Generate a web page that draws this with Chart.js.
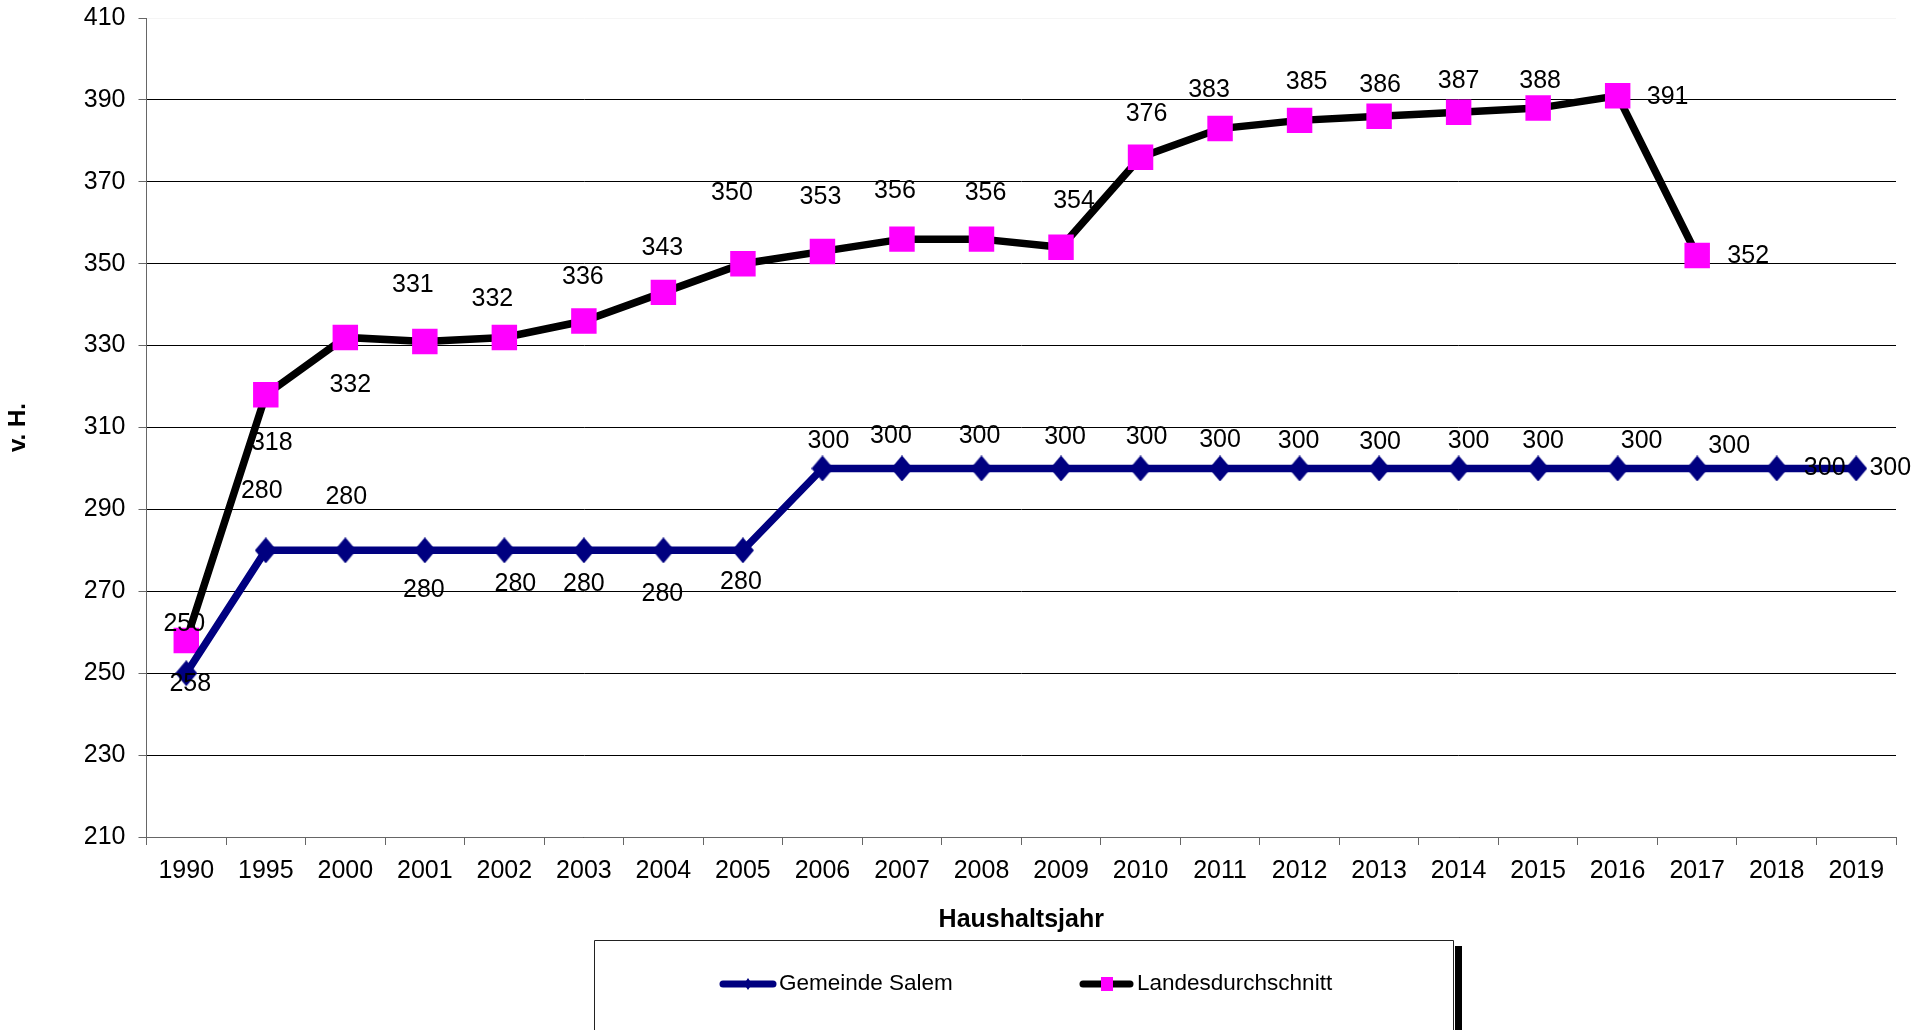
<!DOCTYPE html>
<html>
<head>
<meta charset="utf-8">
<script src="https://cdn.jsdelivr.net/npm/chart.js@4/dist/chart.umd.min.js"></script>
<style>
  html, body { margin: 0; padding: 0; background: #fff; }
  #wrap { width: 1915px; height: 1030px; }
</style>
</head>
<body>
<div id="wrap"><canvas id="c" width="1915" height="1030"></canvas></div>
<script>
// ---- data ----
const years = ['1990','1995','2000','2001','2002','2003','2004','2005','2006','2007','2008','2009','2010','2011','2012','2013','2014','2015','2016','2017','2018','2019'];
const salem = [250,280,280,280,280,280,280,280,300,300,300,300,300,300,300,300,300,300,300,300,300,300];
const landes = [258,318,332,331,332,336,343,350,353,356,356,354,376,383,385,386,387,388,391,352,null,null];
const seriesNames = ['Gemeinde Salem','Landesdurchschnitt'];
const yTitle = 'v. H.';
const xTitle = 'Haushaltsjahr';
const yMin = 210, yMax = 410, yStep = 20;

// ---- label layout (pixel offsets of data labels from their points) ----
const salemLabelDx = [-2,-4,1,-1,11,0,-1,-2,6,-11,-2,4,6,0,-1,1,10,5,24,32,48,34];
const salemLabelDy = [-49,-59,-53,40,34,34,44,32,-27,-32,-32,-31,-31,-28,-27,-26,-27,-27,-27,-22,0,0];
const landesLabelDx = [4,6,5,-12,-12,-1,-1,-11,-2,-7,4,13,6,-11,7,1,0,2,50,51,0,0];
const landesLabelDy = [44,48,48,-56,-38,-44,-44,-71,-54,-48,-46,-46,-43,-38,-38,-31,-31,-27,1,1,0,0];

const FONT = "'Liberation Sans', Arial, sans-serif";
const NAVY = '#000080', MAGENTA = '#FF00FF';

// diamond marker (slightly taller than wide)
function makeDiamond(w, h, color) {
  const c = document.createElement('canvas');
  c.width = w; c.height = h;
  const g = c.getContext('2d');
  g.fillStyle = color;
  g.beginPath();
  g.moveTo(w / 2, 0); g.lineTo(w, h / 2); g.lineTo(w / 2, h); g.lineTo(0, h / 2);
  g.closePath(); g.fill();
  return c;
}
const diamond = makeDiamond(22, 26, NAVY);

const dataLabels = {
  id: 'dataLabels',
  afterDatasetsDraw(chart) {
    const ctx = chart.ctx;
    const offs = [[salemLabelDx, salemLabelDy],[landesLabelDx, landesLabelDy]];
    ctx.save();
    ctx.font = '25px ' + FONT;
    ctx.fillStyle = '#000';
    ctx.textAlign = 'center';
    ctx.textBaseline = 'middle';
    chart.data.datasets.forEach((ds, di) => {
      const meta = chart.getDatasetMeta(di);
      meta.data.forEach((pt, i) => {
        const v = ds.data[i];
        if (v === null || v === undefined) return;
        ctx.fillText(String(v), pt.x + offs[di][0][i], pt.y + offs[di][1][i]);
      });
    });
    ctx.restore();
  }
};

const legendBox = {
  id: 'legendBox',
  afterDraw(chart) {
    const ctx = chart.ctx;
    ctx.save();
    // shadow
    ctx.fillStyle = '#000';
    ctx.fillRect(1455, 946, 7, 90);
    // frame
    ctx.strokeStyle = '#222';
    ctx.lineWidth = 1;
    ctx.fillStyle = '#fff';
    ctx.fillRect(594, 940, 859, 100);
    ctx.beginPath();
    ctx.moveTo(594.5, 1031); ctx.lineTo(594.5, 940.5); ctx.lineTo(1453.5, 940.5); ctx.lineTo(1453.5, 1031);
    ctx.stroke();
    const cy = 984;
    // Salem symbol
    ctx.lineCap = 'round';
    ctx.lineWidth = 7;
    ctx.strokeStyle = NAVY;
    ctx.beginPath(); ctx.moveTo(723, cy); ctx.lineTo(773, cy); ctx.stroke();
    ctx.fillStyle = NAVY;
    ctx.beginPath(); ctx.moveTo(748, cy-6); ctx.lineTo(752, cy); ctx.lineTo(748, cy+6); ctx.lineTo(744, cy); ctx.closePath(); ctx.fill();
    // Landes symbol
    ctx.strokeStyle = '#000';
    ctx.beginPath(); ctx.moveTo(1083, cy); ctx.lineTo(1130, cy); ctx.stroke();
    ctx.fillStyle = MAGENTA;
    ctx.fillRect(1101, cy-7, 12, 14);
    // texts
    ctx.fillStyle = '#000';
    ctx.font = '22.5px ' + FONT;
    ctx.textAlign = 'left';
    ctx.textBaseline = 'middle';
    ctx.fillText(seriesNames[0], 779, cy);
    ctx.fillText(seriesNames[1], 1137, cy);
    ctx.restore();
  }
};

new Chart(document.getElementById('c'), {
  type: 'line',
  data: {
    labels: years,
    datasets: [
      {
        label: seriesNames[0], data: salem,
        borderColor: NAVY, borderWidth: 7.5, tension: 0,
        pointStyle: diamond, pointRadius: 12, pointHoverRadius: 12,
        pointBackgroundColor: NAVY, pointBorderColor: NAVY, pointBorderWidth: 0
      },
      {
        label: seriesNames[1], data: landes,
        borderColor: '#000', borderWidth: 7.5, tension: 0,
        pointStyle: 'rect', pointRadius: 18, pointHoverRadius: 18,
        pointBackgroundColor: MAGENTA, pointBorderColor: MAGENTA, pointBorderWidth: 0
      }
    ]
  },
  options: {
    responsive: false,
    animation: false,
    events: [],
    layout: { padding: { top: 17, right: 19, left: 0, bottom: 91 } },
    plugins: { legend: { display: false }, tooltip: { enabled: false } },
    scales: {
      x: {
        offset: true,
        grid: { offset: true, drawOnChartArea: false, drawTicks: true, tickLength: 8, tickColor: '#666' },
        border: { color: '#666', width: 1 },
        ticks: { color: '#000', font: { family: FONT, size: 25 }, padding: 11, maxRotation: 0, autoSkip: false },
        title: { display: true, text: xTitle, color: '#000', font: { family: FONT, size: 25, weight: 'bold' }, padding: { top: 8, bottom: 4 } }
      },
      y: {
        min: yMin, max: yMax,
        afterFit: (s) => { s.paddingTop = 0; s.paddingBottom = 0; },
        ticks: { stepSize: yStep, color: '#000', font: { family: FONT, size: 25 }, padding: 13 },
        grid: {
          color: (c) => (c.tick && c.tick.value === yMax) ? 'rgba(0,0,0,0.04)' : '#000',
          lineWidth: 1, tickLength: 8, tickColor: '#666'
        },
        border: { color: '#666', width: 1 },
        title: { display: true, text: yTitle, color: '#000', font: { family: FONT, size: 24, weight: 'bold' }, padding: { top: 4, bottom: 38 } }
      }
    }
  },
  plugins: [dataLabels, legendBox]
});
</script>
</body>
</html>
